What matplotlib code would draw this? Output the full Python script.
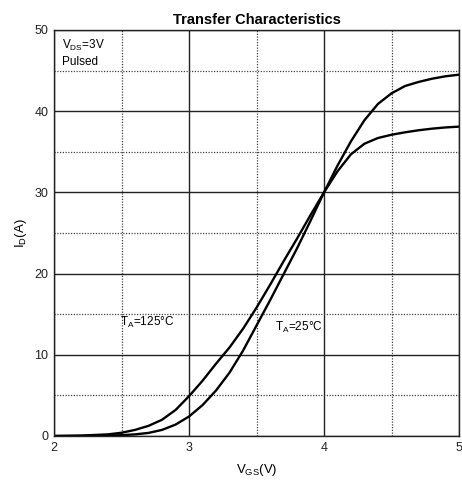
import matplotlib
matplotlib.use("Agg")
import matplotlib.pyplot as plt
from matplotlib.ticker import MultipleLocator

plt.rcParams['font.family'] = ['Liberation Sans', 'DejaVu Sans']
plt.rcParams['mathtext.fontset'] = 'custom'
plt.rcParams['mathtext.rm'] = 'Liberation Sans'
plt.rcParams['mathtext.it'] = 'Liberation Sans'

# Data
vgs_125 = [2.0, 2.2, 2.4, 2.5, 2.6, 2.7, 2.8, 2.9, 3.0, 3.1, 3.2, 3.3, 3.4, 3.5, 3.6,
           3.7, 3.8, 3.9, 4.0, 4.1, 4.2, 4.3, 4.4, 4.5, 4.6, 4.7, 4.8, 4.9, 5.0]
id_125 = [0.0, 0.05, 0.2, 0.4, 0.75, 1.25, 2.0, 3.2, 4.9, 6.8, 8.9, 10.9, 13.2, 15.8, 18.6,
          21.5, 24.3, 27.2, 30.0, 32.6, 34.7, 36.0, 36.7, 37.1, 37.4, 37.65, 37.85, 38.0, 38.1]

vgs_25 = [2.0, 2.2, 2.4, 2.5, 2.6, 2.7, 2.8, 2.9, 3.0, 3.1, 3.2, 3.3, 3.4, 3.5, 3.6,
          3.7, 3.8, 3.9, 4.0, 4.1, 4.2, 4.3, 4.4, 4.5, 4.6, 4.7, 4.8, 4.9, 5.0]
id_25 = [0.0, 0.01, 0.05, 0.1, 0.2, 0.38, 0.75, 1.4, 2.4, 3.8, 5.6, 7.8, 10.5, 13.6, 16.7,
         19.9, 23.1, 26.5, 30.0, 33.3, 36.3, 38.9, 40.9, 42.2, 43.1, 43.6, 44.0, 44.3, 44.5]

x_ticks = [2, 3, 4, 5]
y_ticks = [0, 10, 20, 30, 40, 50]

fig = plt.figure(figsize=(4.62, 4.83), dpi=100)
ax = fig.add_axes([54/462, 1-436/483, (459-54)/462, (436-30)/483])

ax.plot(vgs_125, id_125, color='black', lw=1.7, solid_joinstyle='round')
ax.plot(vgs_25, id_25, color='black', lw=1.7, solid_joinstyle='round')

ax.set_xlim(2, 5)
ax.set_ylim(0, 50)
ax.set_xticks(x_ticks)
ax.set_yticks(y_ticks)
ax.xaxis.set_minor_locator(MultipleLocator(0.5))
ax.yaxis.set_minor_locator(MultipleLocator(5))
ax.grid(which='major', color='#222222', lw=1.0, ls='-')
ax.grid(which='minor', color='#444444', lw=0.9, ls=(0, (1, 1.2)))
ax.set_axisbelow(True)
ax.tick_params(which='both', length=0, labelsize=9, colors='#222222', pad=4)
for s in ax.spines.values():
    s.set_color('#222222')
    s.set_linewidth(1.0)

ax.set_title('Transfer Characteristics', fontsize=10.5, fontweight='bold', pad=4)
ax.set_xlabel(r'V$_{\mathrm{GS}}$(V)', fontsize=9.5, labelpad=6)
ax.set_ylabel(r'I$_{\mathrm{D}}$(A)', fontsize=9.5, labelpad=4)

ax.text(2.06, 49.0, r'V$_{\mathrm{DS}}$=3V', fontsize=8.5, va='top', ha='left')
ax.text(2.06, 46.8, 'Pulsed', fontsize=8.5, va='top', ha='left')
ax.text(2.49, 14.0, r'T$_{\mathrm{A}}$=125°C', fontsize=8.5, va='center', ha='left')
ax.text(3.64, 13.4, r'T$_{\mathrm{A}}$=25°C', fontsize=8.5, va='center', ha='left')

fig.savefig('out.png', dpi=100)
